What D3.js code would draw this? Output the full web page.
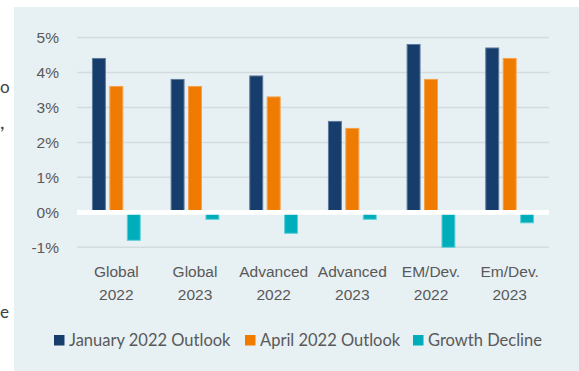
<!DOCTYPE html>
<html>
<head>
<meta charset="utf-8">
<script src="https://cdn.jsdelivr.net/npm/d3@7"></script>
<style>
  body { margin: 0; background: #fff; }
  svg { display: block; font-family: Lato, "Open Sans", sans-serif; }
  .tick text { fill: #595959; font-size: 15.5px; }
</style>
</head>
<body>
<svg id="chart" width="579" height="371"></svg>
<script>
const categories = [['Global', '2022'], ['Global', '2023'], ['Advanced', '2022'],
  ['Advanced', '2023'], ['EM/Dev.', '2022'], ['Em/Dev.', '2023']];
const seriesNames = ['January 2022 Outlook', 'April 2022 Outlook', 'Growth Decline'];
const januaryOutlook = [4.4, 3.8, 3.9, 2.6, 4.8, 4.7];
const aprilOutlook = [3.6, 3.6, 3.3, 2.4, 3.8, 4.4];
const growthDecline = [-0.8, -0.2, -0.6, -0.2, -1.0, -0.3];
const yTicks = [-1, 0, 1, 2, 3, 4, 5];

const colors = ['#173d6c', '#ef7b00', '#00adba'];
const strokes = ['#5d7a9c', '#f5a04a', '#5fd0d8'];

const svg = d3.select('#chart');

// panel background
svg.append('rect')
  .attr('x', 14).attr('y', 7)
  .attr('width', 579 - 14).attr('height', 371 - 7)
  .attr('fill', '#e7f0f3');

// bits of text from the neighbouring slide, at the left edge
[['o', 93, 17], [',', 129, 20], ['e', 318, 17]].forEach(([t, ty, size]) => {
  svg.append('text')
    .attr('x', 0).attr('y', ty)
    .attr('font-size', size)
    .attr('fill', '#404040')
    .text(t);
});

const left = 77, right = 549;
const y = d3.scaleLinear().domain([-1, 5]).range([247.3, 37.5]);
const x0 = d3.scaleBand().domain(d3.range(categories.length))
  .range([left, right]).paddingInner(0.38).paddingOuter(0.19);
const x1 = d3.scaleBand().domain(d3.range(3))
  .range([0, x0.bandwidth()]).paddingInner(0.2).paddingOuter(0);

// gridlines
svg.append('g')
  .selectAll('line')
  .data(yTicks.filter(d => d !== 0))
  .join('line')
  .attr('x1', left).attr('x2', right)
  .attr('y1', d => y(d)).attr('y2', d => y(d))
  .attr('stroke', '#d4dcdf')
  .attr('stroke-width', 1.5);

// y axis labels
const yAxis = svg.append('g')
  .attr('transform', `translate(${left - 18},0)`)
  .call(d3.axisLeft(y).tickValues(yTicks).tickSize(0).tickPadding(0)
    .tickFormat(d => d + '%'));
yAxis.select('.domain').remove();

const series = [januaryOutlook, aprilOutlook, growthDecline];
series.forEach((vals, s) => {
  svg.append('g')
    .selectAll('rect')
    .data(vals)
    .join('rect')
    .attr('x', (d, i) => x0(i) + x1(s) + 0.5)
    .attr('width', x1.bandwidth() - 1)
    .attr('y', d => y(Math.max(0, d)))
    .attr('height', d => Math.abs(y(d) - y(0)))
    .attr('fill', colors[s])
    .attr('stroke', strokes[s])
    .attr('stroke-width', 1);
});

// zero line
svg.append('line')
  .attr('x1', left).attr('x2', right)
  .attr('y1', y(0)).attr('y2', y(0))
  .attr('stroke', '#ffffff')
  .attr('stroke-width', 4.6);

// x axis labels
const xAxis = svg.append('g')
  .attr('transform', 'translate(0,265)')
  .call(d3.axisBottom(x0).tickSize(0).tickFormat(''));
xAxis.select('.domain').remove();
xAxis.selectAll('.tick text').remove();
xAxis.selectAll('.tick').append('text')
  .attr('text-anchor', 'middle')
  .attr('fill', '#595959')
  .attr('font-size', 16.5)
  .selectAll('tspan')
  .data(i => categories[i])
  .join('tspan')
  .attr('x', 0)
  .attr('y', (d, k) => 12 + k * 23)
  .text(d => d);

// legend
const legendX = [54, 245, 413];
const legend = svg.append('g');
seriesNames.forEach((name, s) => {
  const g = legend.append('g').attr('transform', `translate(${legendX[s]},335)`);
  g.append('rect')
    .attr('width', 10.5).attr('height', 10.5)
    .attr('fill', colors[s]);
  g.append('text')
    .attr('x', 15).attr('y', 11)
    .attr('font-size', 16.5)
    .attr('fill', '#595959')
    .text(name);
});
</script>
</body>
</html>
